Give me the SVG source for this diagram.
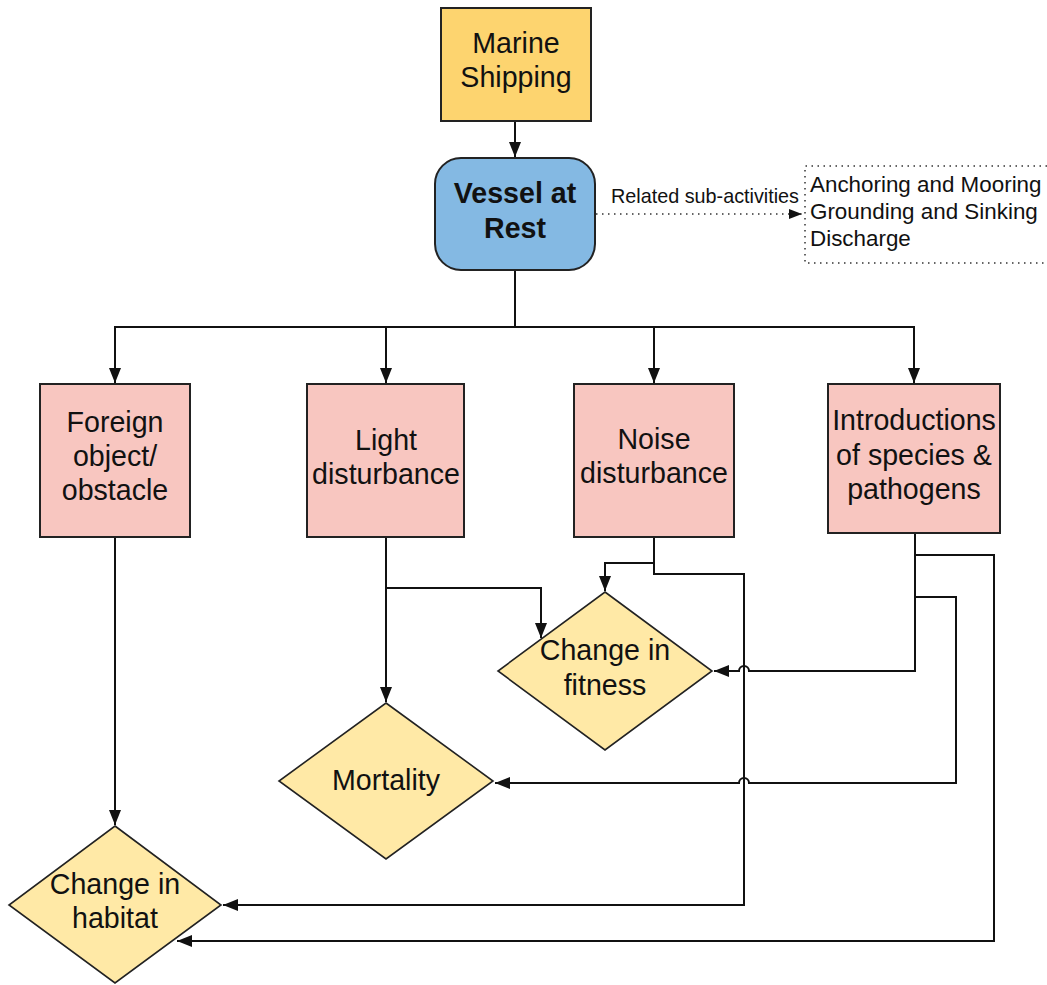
<svg xmlns="http://www.w3.org/2000/svg" width="1047" height="985" viewBox="0 0 1047 985">
  <style>
    text { font-family: "Liberation Sans", Arial, sans-serif; fill: #111; }
    .lbl { font-size: 28.6px; text-anchor: middle; }
    .bold { font-weight: bold; }
    .box { stroke: #222; stroke-width: 2; }
    .activity { fill: #fdd46f; }
    .sub { fill: #84b9e3; }
    .pressure { fill: #f8c6c0; }
    .effect { fill: #ffe9a6; stroke: #222; stroke-width: 1.6; }
    .conn { fill: none; stroke: #111; stroke-width: 2; }
    .dots { fill: none; stroke: #333; stroke-width: 1.5; stroke-dasharray: 1.5 4.5; }
    .list { font-size: 22.4px; }
    .note { font-size: 19.8px; }
  </style>
  <defs>
    <marker id="arrow" markerUnits="userSpaceOnUse" markerWidth="16" markerHeight="12" refX="15" refY="6" orient="auto">
      <path d="M0,0 L15,6 L0,12 z" fill="#111"/>
    </marker>
    <marker id="arrowSmall" markerUnits="userSpaceOnUse" markerWidth="14" markerHeight="10" refX="13" refY="5" orient="auto">
      <path d="M0,0 L13,5 L0,10 z" fill="#111"/>
    </marker>
  </defs>

  <!-- connectors -->
  <g id="connectors">
    <path class="conn" d="M515,121 V157" marker-end="url(#arrow)"/>
    <path class="conn" d="M515,270 V327 H115 V383" marker-end="url(#arrow)"/>
    <path class="conn" d="M515,327 H386 V383" marker-end="url(#arrow)"/>
    <path class="conn" d="M515,327 H654 V383" marker-end="url(#arrow)"/>
    <path class="conn" d="M515,327 H914 V383" marker-end="url(#arrow)"/>
    <!-- foreign object -> habitat -->
    <path class="conn" d="M115,537 V825" marker-end="url(#arrow)"/>
    <!-- light -> mortality / fitness -->
    <path class="conn" d="M386,537 V702" marker-end="url(#arrow)"/>
    <path class="conn" d="M386,588 H541 V638" marker-end="url(#arrow)"/>
    <!-- noise -> fitness / habitat -->
    <path class="conn" d="M654,537 V563 H605 V591" marker-end="url(#arrow)"/>
    <path class="conn" d="M654,563 V574 H744 V905 H223" marker-end="url(#arrow)"/>
    <!-- introductions -> fitness / mortality / habitat (hops over x=744) -->
    <path class="conn" d="M915,533 V671 H749 A5,5 0 0 0 739,671 H714" marker-end="url(#arrow)"/>
    <path class="conn" d="M915,597 H956 V783 H749 A5,5 0 0 0 739,783 H495" marker-end="url(#arrow)"/>
    <path class="conn" d="M915,555 H994 V941 H177" marker-end="url(#arrow)"/>
    <!-- related sub-activities -->
    <path class="dots" d="M596,214 H802" marker-end="url(#arrowSmall)"/>
    <text class="note" x="611" y="203">Related sub-activities</text>
  </g>

  <g id="marine-shipping">
    <rect class="box activity" x="441" y="8" width="150" height="113"/>
    <text class="lbl" x="516" y="53">Marine</text>
    <text class="lbl" x="516" y="87">Shipping</text>
  </g>

  <g id="vessel-at-rest">
    <rect class="box sub" x="435" y="158" width="160" height="112" rx="26" ry="26"/>
    <text class="lbl bold" x="515" y="203">Vessel at</text>
    <text class="lbl bold" x="515" y="238">Rest</text>
  </g>

  <g id="sub-activities">
    <path class="dots" d="M1047,166 H805 V263 H1047"/>
    <text class="list" x="810" y="192">Anchoring and Mooring</text>
    <text class="list" x="810" y="219">Grounding and Sinking</text>
    <text class="list" x="810" y="246">Discharge</text>
  </g>

  <g id="foreign-object">
    <rect class="box pressure" x="40" y="384" width="150" height="153"/>
    <text class="lbl" x="115" y="432">Foreign</text>
    <text class="lbl" x="115" y="466">object/</text>
    <text class="lbl" x="115" y="500">obstacle</text>
  </g>

  <g id="light-disturbance">
    <rect class="box pressure" x="307" y="384" width="157" height="153"/>
    <text class="lbl" x="386" y="450">Light</text>
    <text class="lbl" x="386" y="484">disturbance</text>
  </g>

  <g id="noise-disturbance">
    <rect class="box pressure" x="574" y="384" width="160" height="153"/>
    <text class="lbl" x="654" y="449">Noise</text>
    <text class="lbl" x="654" y="483">disturbance</text>
  </g>

  <g id="introductions">
    <rect class="box pressure" x="828" y="384" width="172" height="149"/>
    <text class="lbl" x="914" y="430">Introductions</text>
    <text class="lbl" x="914" y="465">of species &amp;</text>
    <text class="lbl" x="914" y="499">pathogens</text>
  </g>

  <g id="change-in-fitness">
    <polygon class="effect" points="605,592 712,671 605,750 498,671"/>
    <text class="lbl" x="605" y="660">Change in</text>
    <text class="lbl" x="605" y="695">fitness</text>
  </g>

  <g id="mortality">
    <polygon class="effect" points="386,703 493,781 386,859 279,781"/>
    <text class="lbl" x="386" y="790">Mortality</text>
  </g>

  <g id="change-in-habitat">
    <polygon class="effect" points="115,826 221,905 115,983 9,905"/>
    <text class="lbl" x="115" y="894">Change in</text>
    <text class="lbl" x="115" y="928">habitat</text>
  </g>
</svg>
